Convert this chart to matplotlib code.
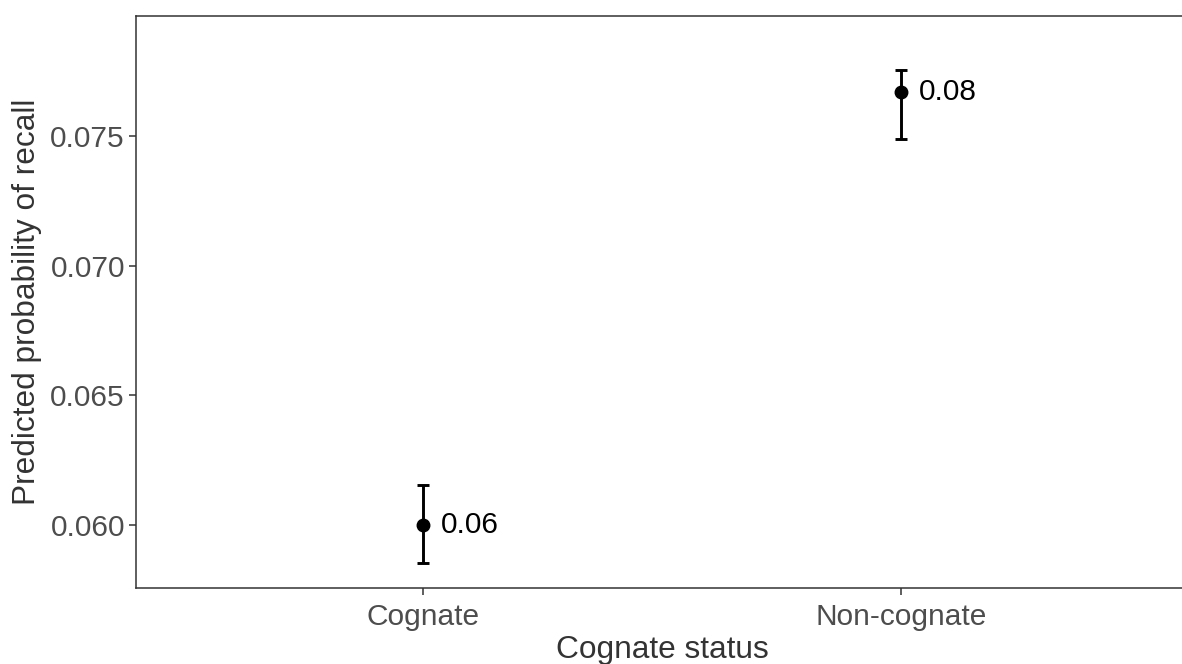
import matplotlib.pyplot as plt

# values
categories = ['Cognate', 'Non-cognate']
predicted = [0.0600, 0.0767]
lower = [0.05853, 0.07487]
upper = [0.06152, 0.07755]
labels = ['0.06', '0.08']

plt.rcParams['font.family'] = ['Liberation Sans', 'DejaVu Sans']

W, H = 1182, 664
fig = plt.figure(figsize=(W / 100, H / 100), dpi=100)
# right edge of the panel sits just past the figure edge, as in the reference
ax = fig.add_axes([136 / W, (H - 588.3) / H, (1188 - 136) / W, (588.3 - 15.5) / H])

x = list(range(1, len(categories) + 1))
yerr = [[p - l for p, l in zip(predicted, lower)],
        [u - p for p, u in zip(predicted, upper)]]
ax.errorbar(x, predicted, yerr=yerr, fmt='o', color='black', ms=9,
            elinewidth=2.1, capsize=4.4, capthick=2.1)
for xi, p, lab in zip(x, predicted, labels):
    ax.annotate(lab, (xi, p), xytext=(13, 0), textcoords='offset points',
                ha='left', va='center', fontsize=21.5, color='black')

ax.set_xlim(0.4, 2.6)
ax.set_ylim(0.05755, 0.07965)
ax.set_xticks(x)
ax.set_xticklabels(categories)
ax.set_yticks([0.060, 0.065, 0.070, 0.075])
ax.set_yticklabels(['0.060', '0.065', '0.070', '0.075'])
ax.tick_params(labelsize=21.5, labelcolor='#4d4d4d', color='#333333',
               length=5, width=1.1, pad=3)
ax.tick_params(axis='x', pad=5.5)
for s in ax.spines.values():
    s.set_color('#333333')
    s.set_linewidth(1.1)
ax.set_xlabel('Cognate status', fontsize=22.8, color='#333333', labelpad=3)
ax.set_ylabel('Predicted probability of recall', fontsize=22.8, color='#333333', labelpad=6)

fig.savefig('out.png', dpi=100)
